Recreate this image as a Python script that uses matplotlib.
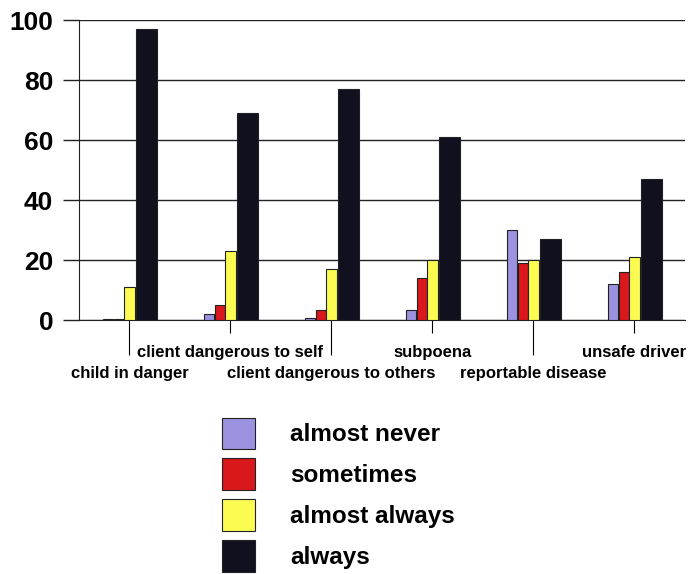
import numpy as np
import matplotlib.pyplot as plt
from matplotlib.patches import Patch

plt.rcParams['font.family'] = ['Liberation Sans', 'DejaVu Sans']

categories = ['child in danger', 'client dangerous to self', 'client dangerous to others',
              'subpoena', 'reportable disease', 'unsafe driver']
series = ['almost never', 'sometimes', 'almost always', 'always']
almost_never = [0.5, 2, 0.7, 3.5, 30, 12]
sometimes = [0.5, 5, 3.3, 14, 19, 16]
almost_always = [11, 23, 17, 20, 20, 21]
always = [97, 69, 77, 61, 27, 47]

colors = ['#9b92e0', '#d8181b', '#fbfb52', '#10101f']
offsets = [-0.21, -0.10, 0.0, 0.17]
widths = [0.10, 0.10, 0.10, 0.21]

fig = plt.figure(figsize=(6.91, 5.74), dpi=100)
ax = fig.add_axes([0.1143, 0.4425, 0.877, 0.5226])

x = np.arange(len(categories))
for vals, c, off, w in zip([almost_never, sometimes, almost_always, always], colors, offsets, widths):
    ax.bar(x + off, vals, width=w, color=c, edgecolor='#222222', linewidth=0.8, zorder=3)

ax.set_xlim(-0.5, 5.5)
ax.set_ylim(0, 100)
ax.set_yticks(range(0, 101, 20))
ax.yaxis.grid(True, color='#222222', linewidth=1.0, zorder=0)
ax.tick_params(axis='y', length=11.5, width=1.0, pad=7, labelsize=19, color='#222222')
for lab in ax.get_yticklabels():
    lab.set_fontweight('bold')

for s in ['top', 'right']:
    ax.spines[s].set_visible(False)
ax.spines['left'].set_color('#222222')
ax.spines['bottom'].set_color('#222222')

# staggered category labels: lower row on major ticks, upper row on minor ticks
ax.set_xticks(x[0::2])
ax.set_xticklabels(categories[0::2], fontweight='bold')
ax.set_xticks(x[1::2], minor=True)
ax.set_xticklabels(categories[1::2], minor=True, fontweight='bold')
ax.tick_params(axis='x', which='major', length=25, width=0.8, pad=8, labelsize=12)
ax.tick_params(axis='x', which='minor', length=9, width=0.8, pad=9, labelsize=12)

handles = [Patch(facecolor=c, edgecolor='#222222', linewidth=0.8) for c in colors]
fig.legend(handles, series, loc='upper left', bbox_to_anchor=(0.304, 0.2935),
           frameon=False, prop={'weight': 'bold', 'size': 17.5},
           handlelength=1.36, handleheight=1.62, labelspacing=0.38, handletextpad=1.44, borderpad=0)

fig.savefig('out.png', dpi=100)
